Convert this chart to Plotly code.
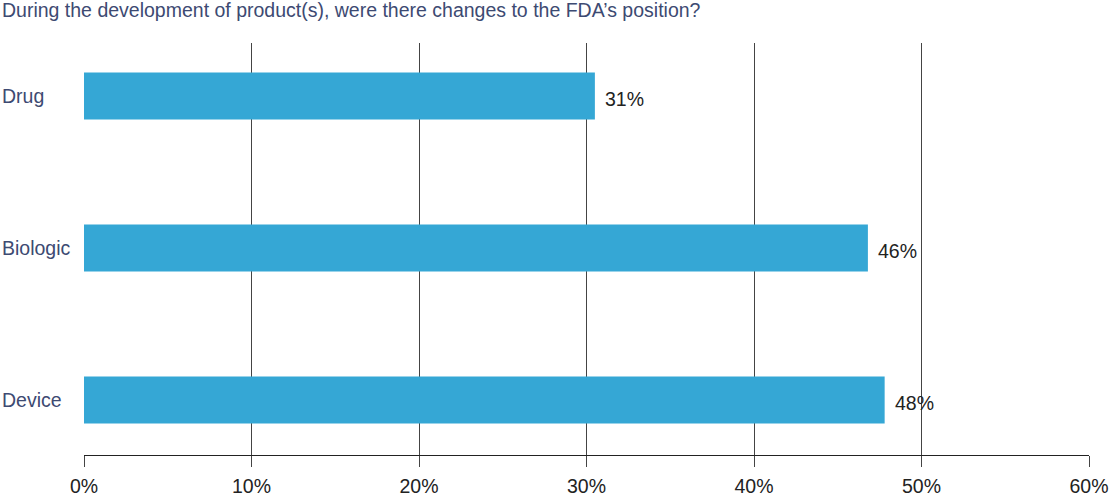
import plotly.graph_objects as go

categories = ['Drug', 'Biologic', 'Device']
values = [30.5, 46.8, 47.8]
value_labels = ['31%', '46%', '48%']
tick_vals = [0, 10, 20, 30, 40, 50, 60]
tick_text = ['0%', '10%', '20%', '30%', '40%', '50%', '60%']

title_color = '#3d4a72'
text_color = '#222222'
bar_color = '#35a7d5'
font_family = 'Liberation Sans, Arial'

fig = go.Figure(go.Bar(
    x=values,
    y=categories,
    orientation='h',
    marker=dict(color=bar_color, line=dict(width=0)),
    width=0.31,
    hoverinfo='x+y',
))

# value labels to the right of each bar
for cat, val, lab in zip(categories, values, value_labels):
    fig.add_annotation(
        x=val, y=cat, text=lab, showarrow=False,
        xanchor='left', yanchor='middle', xshift=8, yshift=-3,
        font=dict(family=font_family, size=19.5, color=text_color),
    )

# category labels, left aligned at the page edge
for cat in categories:
    fig.add_annotation(
        x=0, y=cat, xref='paper', text=cat, showarrow=False,
        xanchor='left', yanchor='middle', xshift=-84, yshift=0,
        font=dict(family=font_family, size=19.5, color=title_color),
    )

fig.update_layout(
    width=1113, height=499,
    margin=dict(l=84, r=24, t=43, b=44, autoexpand=False),
    plot_bgcolor='white', paper_bgcolor='white',
    showlegend=False,
    title=dict(
        text='During the development of product(s), were there changes to the FDA’s position?',
        x=0.0018, xanchor='left', y=0.98, yanchor='middle',
        font=dict(family=font_family, size=19.5, color=title_color),
    ),
    xaxis=dict(
        range=[0, 60], tickvals=tick_vals, ticktext=tick_text,
        showgrid=True, gridcolor='#444444', gridwidth=1,
        zeroline=False, automargin=False,
        showline=True, linecolor='#222222', linewidth=1,
        ticks='outside', ticklen=11, tickcolor='#444444', tickwidth=1,
        ticklabelstandoff=3,
        tickfont=dict(family=font_family, size=19.5, color=text_color),
        fixedrange=True,
    ),
    yaxis=dict(
        range=[2.362, -0.349],
        showgrid=False, zeroline=False, showline=False,
        showticklabels=False, ticks='', automargin=False,
        fixedrange=True,
    ),
)

# drop the default page margin so the figure sits at the window's corner
fig.write_html('out.html', config={'displayModeBar': False},
               post_script="document.body.style.margin='0';")
